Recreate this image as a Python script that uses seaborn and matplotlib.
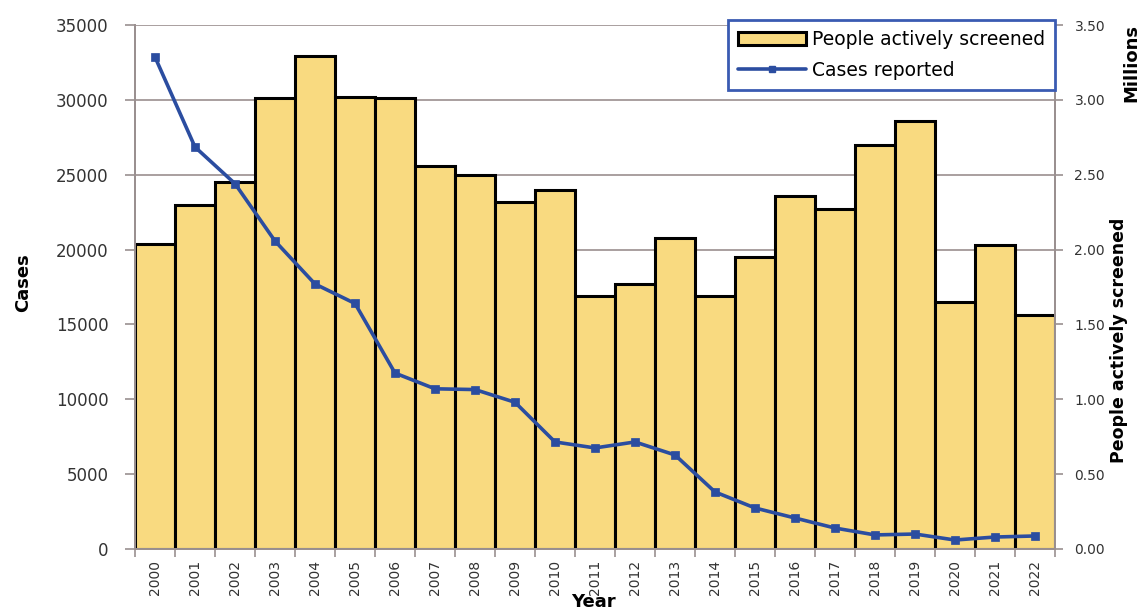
import matplotlib
matplotlib.use("Agg")
import matplotlib.pyplot as plt
import seaborn as sns
import numpy as np
import pandas as pd
from matplotlib.patches import Patch
from matplotlib.lines import Line2D

# Yearly screening activity (millions of people) and reported cases
years = [str(y) for y in range(2000, 2023)]
screened_millions = [2.04, 2.30, 2.45, 3.01, 3.29, 3.02, 3.01, 2.56, 2.50, 2.32,
                     2.40, 1.69, 1.77, 2.08, 1.69, 1.95, 2.36, 2.27, 2.70, 2.86,
                     1.65, 2.03, 1.56]
cases_reported = [32860, 26850, 24400, 20570, 17700, 16400, 11750, 10700, 10650, 9800,
                  7150, 6750, 7150, 6280, 3810, 2740, 2070, 1400, 940, 1000,
                  600, 800, 870]

screen_ticks = [0.0, 0.5, 1.0, 1.5, 2.0, 2.5, 3.0, 3.5]
case_ticks = [0, 5000, 10000, 15000, 20000, 25000, 30000, 35000]

BAR_COLOR = "#F9DA80"
LINE_COLOR = "#2B4DA0"
GRID_COLOR = "#A39797"
AXIS_COLOR = "#9A9090"
TEXT_COLOR = "#333333"
FRAME_COLOR = "#3A5BB2"

sns.set_style("ticks")
plt.rcParams["font.family"] = ["DejaVu Sans"]
TITLE_FONT = ["DejaVu Sans"]

df = pd.DataFrame({"Year": years, "Screened": screened_millions, "Cases": cases_reported})

fig = plt.figure(figsize=(11.43, 6.12), dpi=100)
ax = fig.add_axes([135 / 1143, 1 - 549 / 612, 920 / 1143, 524 / 612])

# Bars: people screened (millions), right-hand scale
sns.barplot(data=df, x="Year", y="Screened", color=BAR_COLOR, saturation=1,
            width=1.0, edgecolor="black", linewidth=2.2, ax=ax)

# Line: cases reported, left-hand scale, drawn above the bars
ax2 = ax.twinx()
sns.pointplot(data=df, x="Year", y="Cases", color=LINE_COLOR, markers="s",
              markersize=5, linewidth=2.6, ax=ax2)

n = len(years)
ax.set_xlim(-0.5, n - 0.5)
ax.set_ylim(0, 3.5)
ax2.set_ylim(0, 35000)

# Swap sides: screened on the right, cases on the left
ax.yaxis.tick_right()
ax2.yaxis.tick_left()
ax.set_yticks(screen_ticks)
ax.set_yticklabels([f"{t:.2f}" for t in screen_ticks])
ax2.set_yticks(case_ticks)
ax2.set_yticklabels([str(t) for t in case_ticks])

# Horizontal gridlines behind the bars
ax.set_axisbelow(True)
ax.yaxis.grid(True, color=GRID_COLOR, linewidth=1.3)
ax.xaxis.grid(False)
ax2.grid(False)

# Year labels centred on bars, tick marks on bar boundaries
ax.set_xticks(range(n))
ax.set_xticklabels(years, rotation=90, fontsize=10, color=TEXT_COLOR)
ax.set_xticks(np.arange(-0.5, n, 1.0), minor=True)
ax.tick_params(axis="x", which="major", length=0, pad=8)
ax.tick_params(axis="x", which="minor", length=6, width=1.2, color=AXIS_COLOR)

ax.tick_params(axis="y", which="major", right=True, left=False, length=6, width=1.2,
               color=AXIS_COLOR, labelsize=10, labelcolor=TEXT_COLOR, pad=8)
ax2.tick_params(axis="y", which="major", left=True, right=False, length=7, width=1.2,
                color=AXIS_COLOR, labelsize=12, labelcolor=TEXT_COLOR, pad=12)

for a in (ax, ax2):
    a.set_xlabel("")
    a.set_ylabel("")
    a.spines["top"].set_visible(False)
    for side in ("left", "right", "bottom"):
        a.spines[side].set_color(AXIS_COLOR)
        a.spines[side].set_linewidth(1.3)

# Axis titles
fig.text(23 / 1143, 1 - 283 / 612, "Cases", rotation=90, ha="center", va="center",
         fontsize=13, fontweight="bold", family=TITLE_FONT, color="black")
fig.text(593 / 1143, 1 - 602 / 612, "Year", ha="center", va="center",
         fontsize=13, fontweight="bold", family=TITLE_FONT, color="black")
fig.text(1119 / 1143, 1 - 340 / 612, "People actively screened", rotation=90,
         ha="center", va="center", fontsize=12.5, fontweight="bold",
         family=TITLE_FONT, color="black")
fig.text(1131 / 1143, 1 - 63 / 612, "Millions", rotation=90, ha="center", va="center",
         fontsize=13, fontweight="bold", family=TITLE_FONT, color="black")

# Legend
handles = [
    Patch(facecolor=BAR_COLOR, edgecolor="black", linewidth=2.2, label="People actively screened"),
    Line2D([0], [0], color=LINE_COLOR, linewidth=2.6, marker="s", markersize=5,
           label="Cases reported"),
]
leg = ax2.legend(handles=handles, loc="upper right", bbox_to_anchor=(1.0, 1.0095),
                 borderaxespad=0, fontsize=13.5, handlelength=3.6, handletextpad=0.3,
                 labelspacing=0.6, borderpad=0.55, fancybox=False, framealpha=1)
leg.get_frame().set_edgecolor(FRAME_COLOR)
leg.get_frame().set_linewidth(2.0)
for t in leg.get_texts():
    t.set_color("black")

fig.savefig("out.png", dpi=100, facecolor="white")
